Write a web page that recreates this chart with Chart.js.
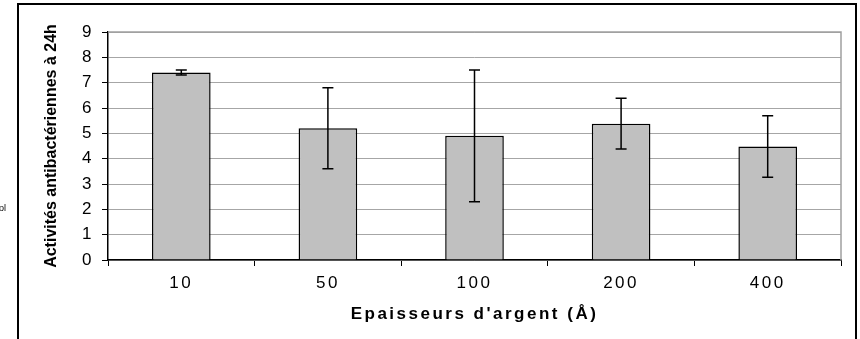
<!DOCTYPE html>
<html>
<head>
<meta charset="utf-8">
<script src="https://cdn.jsdelivr.net/npm/chart.js@4"></script>
<style>
  html, body { margin: 0; padding: 0; background: #fff; }
  #wrap { position: relative; width: 860px; height: 339px; }
</style>
</head>
<body>
<div id="wrap"><canvas id="c" width="860" height="339"></canvas></div>
<script>
const categories = ['10', '50', '100', '200', '400'];
const activity = [7.4, 5.2, 4.9, 5.38, 4.48];
const errors = [0.1, 1.6, 2.6, 1.0, 1.21];
const yTicks = [0, 1, 2, 3, 4, 5, 6, 7, 8, 9];
const xTitle = "Epaisseurs d'argent (Å)";
const yTitle = 'Activités antibactériennes à 24h';
const sideText = 'ol';

const FONT = "'Liberation Sans', Arial, sans-serif";

const spacingPlugin = {
  id: 'spacing',
  beforeLayout(chart) { chart.ctx.letterSpacing = '2.5px'; },
  beforeDraw(chart) {
    chart.ctx.letterSpacing = '2.5px';
    const ys = chart.scales.y;
    if (ys && !ys._wrappedTitle) {
      const orig = ys.drawTitle;
      ys.drawTitle = function () {
        const c = this.ctx;
        const old = c.letterSpacing;
        c.letterSpacing = '0px';
        orig.call(this);
        c.letterSpacing = old;
      };
      ys._wrappedTitle = true;
    }
  }
};

const framePlugin = {
  id: 'frame',
  beforeDatasetsDraw(chart) {
    const {ctx, chartArea: a} = chart;
    ctx.save();
    ctx.strokeStyle = '#a0a0a0';
    ctx.lineWidth = 1.5;
    ctx.beginPath();
    ctx.moveTo(a.left, a.top);
    ctx.lineTo(a.right, a.top);
    ctx.lineTo(a.right, a.bottom);
    ctx.stroke();
    ctx.restore();
  },
  afterDraw(chart) {
    const ctx = chart.ctx;
    ctx.save();
    ctx.strokeStyle = '#000';
    ctx.lineWidth = 2;
    ctx.beginPath();
    ctx.moveTo(18, 345);
    ctx.lineTo(18, 4);
    ctx.lineTo(856, 4);
    ctx.lineTo(856, 345);
    ctx.stroke();
    ctx.letterSpacing = '0px';
    ctx.fillStyle = '#000';
    ctx.font = '9px ' + FONT;
    ctx.textBaseline = 'middle';
    ctx.textAlign = 'left';
    ctx.fillText(sideText, -1, 209);
    ctx.restore();
  }
};

const errorBarPlugin = {
  id: 'errorBars',
  afterDatasetsDraw(chart) {
    const ctx = chart.ctx;
    const xs = chart.scales.x, ys = chart.scales.y;
    ctx.save();
    ctx.strokeStyle = '#000';
    ctx.lineWidth = 1.5;
    activity.forEach((v, i) => {
      const x = xs.getPixelForValue(i);
      const yTop = ys.getPixelForValue(v + errors[i]);
      const yBot = ys.getPixelForValue(v - errors[i]);
      const cap = 5.5;
      ctx.beginPath();
      ctx.moveTo(x, yTop); ctx.lineTo(x, yBot);
      ctx.moveTo(x - cap, yTop); ctx.lineTo(x + cap, yTop);
      ctx.moveTo(x - cap, yBot); ctx.lineTo(x + cap, yBot);
      ctx.stroke();
    });
    ctx.restore();
  }
};

new Chart(document.getElementById('c'), {
  type: 'bar',
  data: {
    labels: categories,
    datasets: [{
      data: activity,
      backgroundColor: '#c0c0c0',
      borderColor: '#000',
      borderWidth: 1.5,
      borderSkipped: 'start',
      categoryPercentage: 1,
      barPercentage: 0.4
    }]
  },
  options: {
    responsive: false,
    animation: false,
    events: [],
    layout: { padding: { top: 32, right: 19, left: 0, bottom: 0 } },
    plugins: { legend: { display: false }, tooltip: { enabled: false }, title: { display: false } },
    scales: {
      x: {
        offset: true,
        grid: { display: true, offset: true, drawOnChartArea: false, drawTicks: true, tickLength: 6, tickColor: '#000', tickWidth: 1 },
        border: { display: true, color: '#000', width: 1.5 },
        ticks: { color: '#000', font: { family: FONT, size: 17 }, padding: 7, maxRotation: 0 },
        title: { display: true, text: xTitle, color: '#000', font: { family: FONT, size: 17, weight: 'bold' }, padding: { top: 0, bottom: 14 } },
        afterFit(s) { s.height = 79; }
      },
      y: {
        min: 0, max: 9,
        afterBuildTicks(s) { s.ticks = yTicks.map(v => ({ value: v })); },
        grid: { color: '#a6a6a6', lineWidth: 1, tickLength: 6, tickColor: '#000', tickWidth: 1, drawTicks: true },
        border: { display: true, color: '#000', width: 1.5, dash: [] },
        ticks: { color: '#000', font: { family: FONT, size: 17 }, padding: 8 },
        title: { display: true, text: yTitle, color: '#000', font: { family: FONT, size: 16, weight: 'bold' }, padding: { top: 42, bottom: 0 } },
        afterFit(s) { s.width = 108; }
      }
    }
  },
  plugins: [spacingPlugin, framePlugin, errorBarPlugin]
});
</script>
</body>
</html>
